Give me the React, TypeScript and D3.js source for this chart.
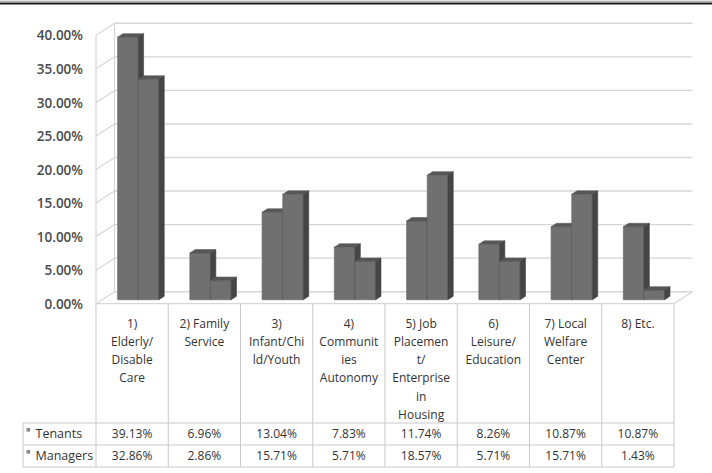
import React from "react";
import * as d3 from "d3";

// Service categories (each entry is the wrapped header text of one table column)
const categories: string[][] = [
  ["1)", "Elderly/", "Disable", "Care"],
  ["2) Family", "Service"],
  ["3)", "Infant/Chi", "ld/Youth"],
  ["4)", "Communit", "ies", "Autonomy"],
  ["5) Job", "Placemen", "t/", "Enterprise", "in", "Housing"],
  ["6)", "Leisure/", "Education"],
  ["7) Local", "Welfare", "Center"],
  ["8) Etc."],
];

const seriesNames = ["Tenants", "Managers"];
const tenants = [39.13, 6.96, 13.04, 7.83, 11.74, 8.26, 10.87, 10.87];
const managers = [32.86, 2.86, 15.71, 5.71, 18.57, 5.71, 15.71, 1.43];
const yTicks = [0, 5, 10, 15, 20, 25, 30, 35, 40];

const W = 712;
const H = 473;
const FONT = "'Open Sans', 'Noto Sans', sans-serif";

export default function App() {
  const xLeft = 96;
  const xRight = 674;
  const DX = 18.5; // depth offset of the back wall
  const DY = -12;
  const fFront = 0.33; // depth position of bar front faces
  const fBack = 0.62; // depth position of bar back faces

  const ids = categories.map((_, i) => String(i));
  const x = d3.scaleBand<string>().domain(ids).range([xLeft, xRight]).paddingInner(0).paddingOuter(0);
  const xs = d3
    .scaleBand<string>()
    .domain(seriesNames)
    .range([0, x.bandwidth()])
    .paddingInner(0)
    .paddingOuter(0.75);
  const y = d3.scaleLinear().domain([0, 40]).range([303.7, 35.3]);
  const fmtTick = (v: number) => d3.format(".2f")(v) + "%";
  const fmtVal = (v: number) => d3.format(".2f")(v) + "%";

  const values = [tenants, managers];

  const tableTop = 423;
  const rowH = 22;
  const tableLeft = 23;
  const tableBottom = tableTop + rowH * 2;
  const lineColor = "#c9c9c9";
  const gridColor = "#d6d6d6";

  const bars: React.ReactNode[] = [];
  categories.forEach((_, ci) => {
    seriesNames.forEach((s, si) => {
      const v = values[si][ci];
      const xl = (x(String(ci)) as number) + (xs(s) as number);
      const xr = xl + xs.bandwidth();
      const y0 = y(0);
      const yv = y(v);
      const p = (px: number, py: number, f: number) => `${px + f * DX},${py + f * DY}`;
      bars.push(
        <g key={`${ci}-${si}`}>
          <polygon
            points={[p(xl, yv, fFront), p(xr, yv, fFront), p(xr, y0, fFront), p(xl, y0, fFront)].join(" ")}
            fill="#707070"
            stroke="#636363"
            strokeWidth={0.6}
          />
          <polygon
            points={[p(xl, yv, fFront), p(xr, yv, fFront), p(xr, yv, fBack), p(xl, yv, fBack)].join(" ")}
            fill="#575757"
            stroke="#5a5a5a"
            strokeWidth={0.6}
          />
          <polygon
            points={[p(xr, yv, fFront), p(xr, yv, fBack), p(xr, y0, fBack), p(xr, y0, fFront)].join(" ")}
            fill="#454545"
            stroke="#454545"
            strokeWidth={0.6}
          />
        </g>
      );
    });
  });

  return (
    <svg
      width={W}
      height={H}
      style={{ position: "absolute", left: 0, top: 0, background: "#fff" }}
      fontFamily={FONT}
    >
      {/* top rule */}
      <line x1={0} x2={W} y1={1.2} y2={1.2} stroke="#9a9a9a" strokeWidth={1} />
      <line x1={0} x2={W} y1={3.4} y2={3.4} stroke="#1a1a1a" strokeWidth={2} />

      {/* back wall gridlines and side wall diagonals */}
      {yTicks.map((t) => (
        <g key={t}>
          <line x1={xLeft + DX} x2={xRight + DX} y1={y(t) + DY} y2={y(t) + DY} stroke={gridColor} strokeWidth={1.4} />
          <line x1={xLeft} x2={xLeft + DX} y1={y(t)} y2={y(t) + DY} stroke={gridColor} strokeWidth={1.2} />
        </g>
      ))}
      <line x1={xLeft + DX} x2={xLeft + DX} y1={y(0) + DY} y2={y(40) + DY} stroke={gridColor} strokeWidth={1.2} />
      <line x1={xLeft} x2={xLeft} y1={y(0)} y2={y(40)} stroke={gridColor} strokeWidth={1.2} />
      {/* floor edges */}
      <line x1={xLeft} x2={xRight} y1={y(0)} y2={y(0)} stroke={gridColor} strokeWidth={1.3} />
      <line x1={xRight} x2={xRight + DX} y1={y(0)} y2={y(0) + DY} stroke={gridColor} strokeWidth={1.2} />

      {/* y tick labels */}
      {yTicks.map((t) => (
        <text
          key={t}
          x={83}
          y={y(t) + 1.5}
          textAnchor="end"
          dominantBaseline="middle"
          fontSize={13.5}
          fontWeight={600}
          fill="#4a4a4a"
        >
          {fmtTick(t)}
        </text>
      ))}

      {bars}

      {/* data table */}
      <g stroke={lineColor} strokeWidth={1}>
        {d3.range(categories.length + 1).map((i) => {
          const xx = xLeft + i * x.step();
          return <line key={i} x1={xx} x2={xx} y1={y(0)} y2={tableBottom} />;
        })}
        <line x1={tableLeft} x2={tableLeft} y1={tableTop} y2={tableBottom} />
        {[0, 1, 2].map((r) => (
          <line key={r} x1={tableLeft} x2={xRight} y1={tableTop + r * rowH} y2={tableTop + r * rowH} />
        ))}
      </g>

      {/* category headers */}
      {categories.map((lines, ci) => (
        <text
          key={ci}
          x={(x(String(ci)) as number) + x.bandwidth() / 2}
          textAnchor="middle"
          fontSize={12}
          fill="#333"
        >
          {lines.map((ln, li) => (
            <tspan key={li} x={(x(String(ci)) as number) + x.bandwidth() / 2} y={327.5 + li * 18.3}>
              {ln}
            </tspan>
          ))}
        </text>
      ))}

      {/* row headers and values */}
      {seriesNames.map((s, si) => {
        const cy = tableTop + si * rowH + rowH / 2;
        return (
          <g key={s}>
            <rect x={26.5} y={cy - 6} width={3.6} height={3.6} fill="#8a8a8a" />
            <text x={35.5} y={cy + 4.3} fontSize={12.5} fill="#333">
              {s}
            </text>
            {values[si].map((v, ci) => (
              <text
                key={ci}
                x={(x(String(ci)) as number) + x.bandwidth() / 2}
                y={cy + 4.3}
                textAnchor="middle"
                fontSize={12}
                fill="#333"
              >
                {fmtVal(v)}
              </text>
            ))}
          </g>
        );
      })}
    </svg>
  );
}
